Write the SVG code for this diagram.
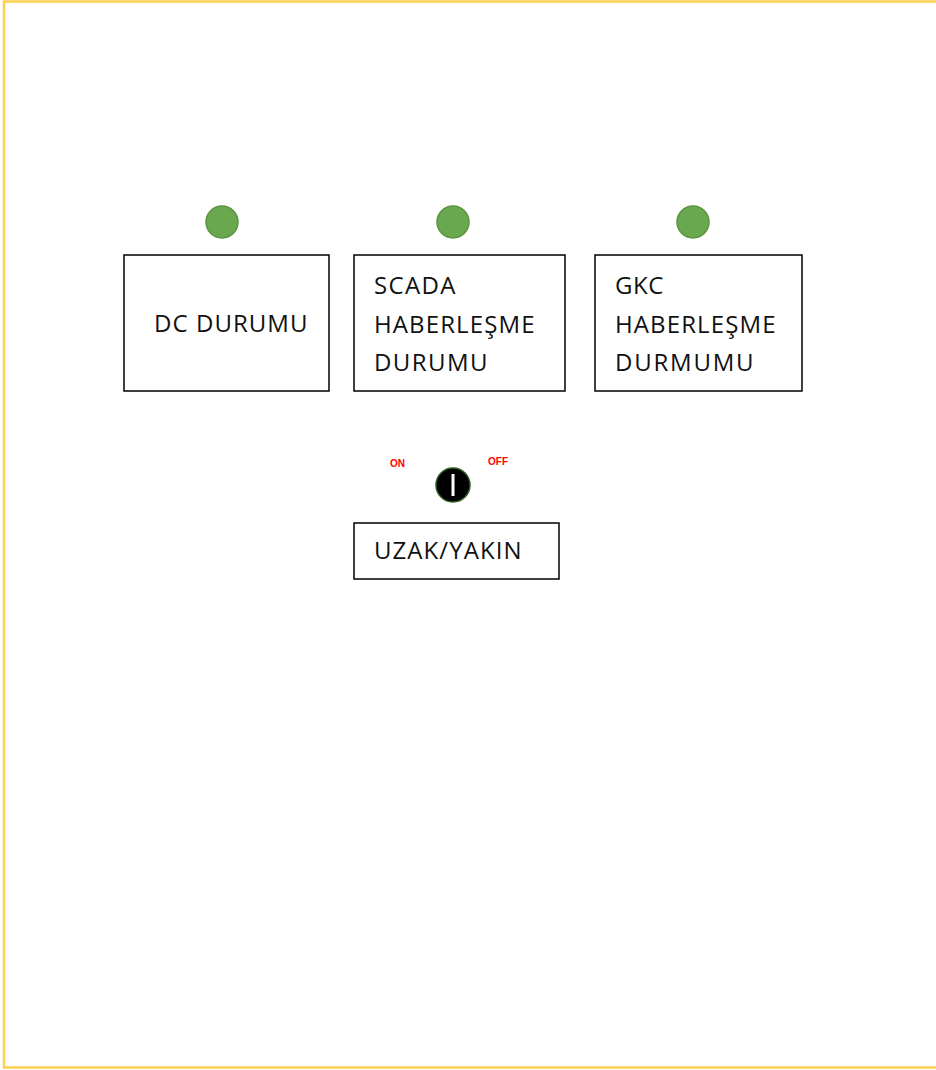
<svg xmlns="http://www.w3.org/2000/svg" width="936" height="1070" viewBox="0 0 936 1070">
<style>
.box{fill:#fff;stroke:#000;stroke-width:1.5}
.led{fill:#6AA84F;stroke:#5A9440;stroke-width:1.5}
.lbl{font-family:"Open Sans","Liberation Sans",sans-serif;font-size:24px;letter-spacing:0.5px;fill:#111}
.sw{font-family:"Liberation Sans",sans-serif;font-size:10px;font-weight:bold;fill:#FF0000}
</style>
<rect x="0" y="0" width="936" height="1070" fill="#fff"/>
<rect x="4" y="1.5" width="960" height="1066" fill="none" stroke="#FFD04F" stroke-width="2.5"/>
<g id="led-dc"><circle class="led" cx="222" cy="222" r="16"/></g>
<g id="led-scada"><circle class="led" cx="453" cy="222" r="16"/></g>
<g id="led-gkc"><circle class="led" cx="693" cy="222" r="16"/></g>
<g id="dc-durumu"><rect class="box" x="124" y="255" width="205" height="136"/><text class="lbl" x="154" y="332" textLength="154">DC DURUMU</text></g>
<g id="scada"><rect class="box" x="354" y="255" width="211" height="136"/><text class="lbl" x="374" y="294" textLength="82">SCADA</text><text class="lbl" x="374" y="333" textLength="161">HABERLEŞME</text><text class="lbl" x="374" y="371" textLength="114">DURUMU</text></g>
<g id="gkc"><rect class="box" x="595" y="255" width="207" height="136"/><text class="lbl" x="615" y="294">GKC</text><text class="lbl" x="615" y="333" textLength="161">HABERLEŞME</text><text class="lbl" x="615" y="371" textLength="139">DURMUMU</text></g>
<g id="switch"><text class="sw" x="390" y="467">ON</text><text class="sw" x="488" y="465">OFF</text><circle cx="453" cy="485" r="17" fill="#000" stroke="#2E5E1E" stroke-width="1.5"/><rect x="451.5" y="474" width="3" height="22" fill="#fff"/></g>
<g id="uzak-yakin"><rect class="box" x="354" y="523" width="205" height="56"/><text class="lbl" x="374" y="559" textLength="148">UZAK/YAKIN</text></g>
<g id="connectors"/>
</svg>
